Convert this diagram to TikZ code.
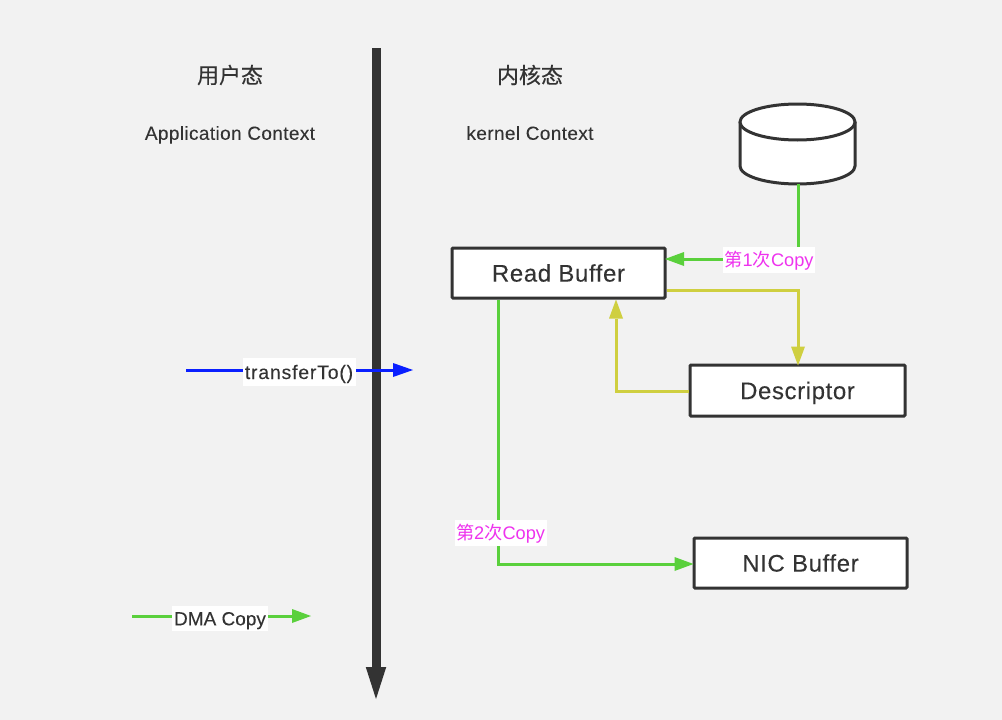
\documentclass[tikz,border=0pt]{standalone}
\usepackage{fontspec}
\setmainfont{Liberation Sans}
\newfontfamily\cjk[FakeBold=0.25]{Noto Sans CJK SC}
\newfontfamily\cjkm{Noto Sans CJK SC}
\newfontfamily\widea[LetterSpace=2.5,FakeBold=0.1]{Liberation Sans}
\newfontfamily\wideb[LetterSpace=2,FakeBold=0.1]{Liberation Sans}
\newfontfamily\widec[LetterSpace=4,FakeBold=0.1]{Liberation Sans}
\newfontfamily\plainb[FakeBold=0.1]{Liberation Sans}
\usetikzlibrary{arrows.meta,calc}
\definecolor{bgc}{HTML}{F2F2F2}
\definecolor{ink}{HTML}{333333}
\definecolor{grn}{HTML}{5AD03C}
\definecolor{ylw}{HTML}{CFCF40}
\definecolor{blu}{HTML}{0A1FFF}
\definecolor{mag}{HTML}{EE33EE}
\tikzset{
  capcenter/.style={text height=#1,text depth=0pt},
  boxn/.style={draw=ink,fill=white,line width=3pt,rounded corners=1pt,inner sep=0pt,font=\widea\fontsize{24}{24}\selectfont,text=ink,capcenter=17.2pt},
  title/.style={font=\cjk\fontsize{22}{22}\selectfont,text=ink,inner sep=0pt},
  sub/.style={font=\wideb\fontsize{19}{19}\selectfont,text=ink,inner sep=0pt,capcenter=13.6pt},
  lab/.style={fill=white,inner sep=0pt,text=ink,minimum height=25pt},
  maglab/.style={fill=white,inner sep=0pt,text=mag,font=\fontsize{18.2}{18.2}\selectfont,minimum height=26pt,capcenter=13pt},
  grnline/.style={draw=grn,line width=3pt,-{Triangle[length=19pt,width=14pt,fill=grn,line width=0pt]}},
  ylwline/.style={draw=ylw,line width=3pt,-{Triangle[length=19pt,width=14pt,fill=ylw,line width=0pt]}},
  blueline/.style={draw=blu,line width=3pt,-{Triangle[length=20pt,width=14pt,fill=blu,line width=0pt]}},
}
\begin{document}
\begin{tikzpicture}[x=1pt,y=-1pt]
\useasboundingbox[fill=bgc] (0,0) rectangle (1002,720);
% axis
\coordinate (axT) at (376,48);
\coordinate (axB) at (376,699);
\draw[draw=ink,line width=9pt,-{Triangle[length=32pt,width=20.5pt,fill=ink,line width=0pt]}] (axT) -- (axB);
% titles
\node[title] (t1) at (230,75) {用户态};
\node[title] (t2) at (530,75) {内核态};
\node[sub] (s1) at (230,133) {Application Context};
\node[sub] (s2) at (530,133) {kernel Context};
% boxes
\node[boxn,minimum width=213pt,minimum height=50pt] (read) at (558.5,273) {Read Buffer};
\node[boxn,minimum width=215pt,minimum height=51pt] (desc) at (797.5,390.5) {Descriptor};
\node[boxn,minimum width=213pt,minimum height=50pt] (nic) at (800.5,563) {NIC Buffer};
% disk
\node[minimum width=115pt,minimum height=81pt,inner sep=0pt] (disk) at (797.5,143.5) {};
\draw[draw=ink,line width=3pt,fill=white] (740,122) -- (740,166) arc[start angle=180,end angle=360,x radius=57.5pt,y radius=18pt] -- (855,122);
\draw[draw=ink,line width=3pt,fill=white] (797.5,122) ellipse[x radius=57.5pt,y radius=18pt];
% connectors
\coordinate (c1) at (798,259);
\coordinate (c2) at (798,290);
\coordinate (c3) at (616,391);
\coordinate (c4) at (498,564);
\draw[grnline,shorten >=-1.5pt] (disk.south -| c1) -- (c1) -- (c1 -| read.east);
\draw[ylwline,shorten >=-2pt] (c2 -| read.east) -- (c2) -- (c2 |- desc.north);
\draw[ylwline] (c3 -| desc.west) -- (c3) -- (c3 |- read.south);
\draw[grnline,shorten >=-1pt] (c4 |- read.south) -- (c4) -- (c4 -| nic.west);
\coordinate (bs) at (186,370);
\coordinate (be) at (413,370);
\draw[blueline] (bs) -- (be);
\coordinate (gs) at (132,616);
\coordinate (ge) at (311,616);
\draw[grnline] (gs) -- (ge);
% labels
\node[maglab,minimum width=92pt] (l1) at (769,260) {{\cjkm 第}1{\cjkm 次}Copy};
\node[maglab,minimum width=92pt] (l2) at (500.5,533) {{\cjkm 第}2{\cjkm 次}Copy};
\node[lab,minimum height=28pt,minimum width=113pt,font=\widec\fontsize{19.5}{19.5}\selectfont,capcenter=14pt] (l3) at (299,372) {transferTo()};
\node[lab,minimum width=96pt,font=\plainb\fontsize{19}{19}\selectfont,capcenter=13.6pt] (l4) at (220,618.5) {DMA Copy};
\end{tikzpicture}
\end{document}
